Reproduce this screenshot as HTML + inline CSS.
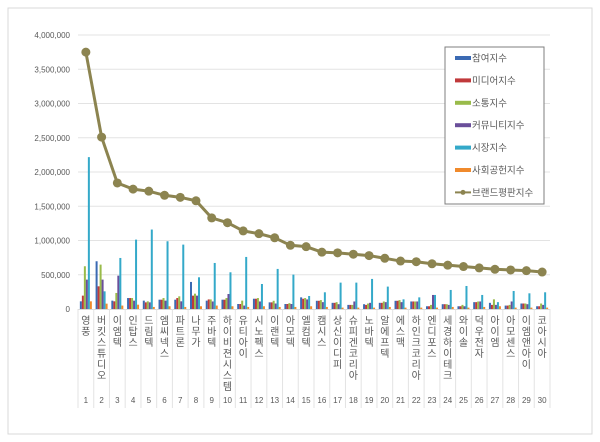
<!DOCTYPE html>
<html><head><meta charset="utf-8"><style>
body{margin:0;background:#fff;}
svg{display:block;font-family:"Liberation Sans","Noto Sans CJK KR",sans-serif;}
</style></head><body>
<svg id="c" width="600" height="442">
<rect x="8" y="8" width="584" height="426" fill="#fff" stroke="#d9d9d9"/>
<g id="grid"></g><g id="bars"></g><g id="line"></g><g id="xaxis"></g><g id="legend"></g>
</svg>
<script>
const categories=["영풍","버킷스튜디오","이엠텍","인탑스","드림텍","엠씨넥스","파트론","나무가","주바텍","하이비젼시스템","유티아이","시노펙스","이랜텍","아모텍","엘컴텍","캠시스","상신이디피","슈피겐코리아","노바텍","알에프텍","에스맥","하인크코리아","엔디포스","세경하이테크","와이솔","덕우전자","아이엠","아모센스","이엠앤아이","코아시아"];
const participation=[112000,697000,122000,160000,122000,136000,136000,395000,122000,136000,73000,150000,97000,73000,170000,120000,90000,60000,70000,90000,120000,110000,40000,70000,40000,100000,90000,50000,80000,40000];
const media=[195000,331000,112000,160000,97000,136000,160000,195000,140000,136000,73000,150000,97000,73000,150000,120000,90000,60000,60000,90000,120000,110000,40000,70000,40000,100000,60000,50000,80000,40000];
const communication=[624000,648000,234000,160000,112000,160000,185000,224000,140000,160000,122000,160000,120000,85000,160000,130000,100000,60000,80000,110000,130000,110000,60000,70000,60000,110000,141000,60000,80000,80000];
const community=[429000,429000,487000,122000,97000,122000,112000,195000,110000,219000,50000,110000,80000,73000,140000,100000,70000,110000,90000,100000,100000,110000,205000,60000,40000,110000,60000,110000,70000,60000];
const market=[2217000,258000,745000,1013000,1160000,989000,940000,463000,672000,536000,760000,365000,585000,502000,190000,244000,385000,385000,439000,327000,141000,170000,205000,278000,336000,205000,100000,263000,229000,244000];
const social=[112000,78000,50000,63000,30000,40000,30000,40000,50000,40000,30000,40000,30000,30000,40000,30000,20000,20000,20000,30000,20000,20000,20000,30000,20000,30000,40000,20000,20000,20000];
const brand=[3750000,2510000,1840000,1750000,1720000,1660000,1630000,1580000,1330000,1260000,1140000,1100000,1040000,930000,910000,830000,820000,800000,780000,740000,700000,690000,660000,640000,620000,600000,580000,570000,560000,540000];
const yTicks=[0,500000,1000000,1500000,2000000,2500000,3000000,3500000,4000000];
const seriesNames=["참여지수","미디어지수","소통지수","커뮤니티지수","시장지수","사회공헌지수"];
const seriesColors=["#3b6ab3","#c0393b","#99bb4a","#6a4f9a","#34a9c9","#f08a2c"];
const lineName="브랜드평판지수";
const NS="http://www.w3.org/2000/svg";
const X0=78,X1=550,Y0=309,YMAX=4000000,YTOP=35;
const step=(X1-X0)/categories.length;
const xC=i=>X0+step*(i+0.5);
const y=v=>Y0-(v/YMAX)*(Y0-YTOP);
function mk(tag,attrs,parent){const e=document.createElementNS(NS,tag);for(const k in attrs)e.setAttribute(k,attrs[k]);parent.appendChild(e);return e;}
const grid=document.getElementById('grid');
yTicks.forEach(t=>{
  if(t>0){const l=mk('line',{x1:X0,x2:X1,y1:y(t),y2:y(t),stroke:'#e3e3e3'},grid);
  
  }
  const tx=mk('text',{x:70,y:y(t)+3,'font-size':'8','text-anchor':'end',fill:'#595959'},grid);
  tx.textContent=t.toLocaleString('en-US');
  
  
});
const bars=document.getElementById('bars');
const allSeries=[participation,media,communication,community,market,social];
const bw=2;
allSeries.forEach((s,si)=>{
  s.forEach((v,i)=>{
    const x=xC(i)-3*bw+si*bw;
    const r=mk('rect',{x:x,y:y(v),width:bw,height:Y0-y(v),fill:seriesColors[si]},bars);
    
    
  });
});
const lg=document.getElementById('line');
const pts=brand.map((v,i)=>xC(i)+','+y(v)).join(' ');
const pl=mk('polyline',{points:pts,fill:'none',stroke:'#8c8450','stroke-width':'3'},lg);


brand.forEach((v,i)=>{
  const c=mk('circle',{cx:xC(i),cy:y(v),r:4.5,fill:'#8c8450'},lg);
  
  
});
const xa=document.getElementById('xaxis');
const ax=mk('line',{x1:X0,x2:X1,y1:Y0+0.5,y2:Y0+0.5,stroke:'#d9d9d9'},xa);


for(let i=0;i<=categories.length;i++){
  const l=mk('line',{x1:X0+step*i,x2:X0+step*i,y1:Y0,y2:408,stroke:'#e3e3e3'},xa);
  
  
}
categories.forEach((c,i)=>{
  const g=mk('g',{},xa);
  
  
  [...c].forEach((ch,j)=>{
    const t=mk('text',{x:xC(i),y:324+j*11,'font-size':'10','text-anchor':'middle',fill:'#595959'},g);
    t.textContent=ch;
  });
  const n=mk('text',{x:xC(i),y:403,'font-size':'8','text-anchor':'middle',fill:'#595959'},xa);
  n.textContent=String(i+1);
  
  
});
const leg=document.getElementById('legend');
const box=mk('rect',{x:445,y:47,width:99,height:157,fill:'#fff',stroke:'#7f7f7f'},leg);


seriesNames.concat([lineName]).forEach((nm,k)=>{
  const yy=58+k*22.4;
  const g=mk('g',{},leg);
  
  
  if(k<6){mk('rect',{x:455,y:yy-2,width:16,height:4,fill:seriesColors[k]},g);}
  else{mk('line',{x1:455,x2:471,y1:yy,y2:yy,stroke:'#8c8450','stroke-width':2},g);mk('circle',{cx:463,cy:yy,r:2.5,fill:'#8c8450'},g);}
  const t=mk('text',{x:472,y:yy+3.5,'font-size':'9.5',fill:'#595959'},g);
  t.textContent=nm;
});
</script>
</body></html>
